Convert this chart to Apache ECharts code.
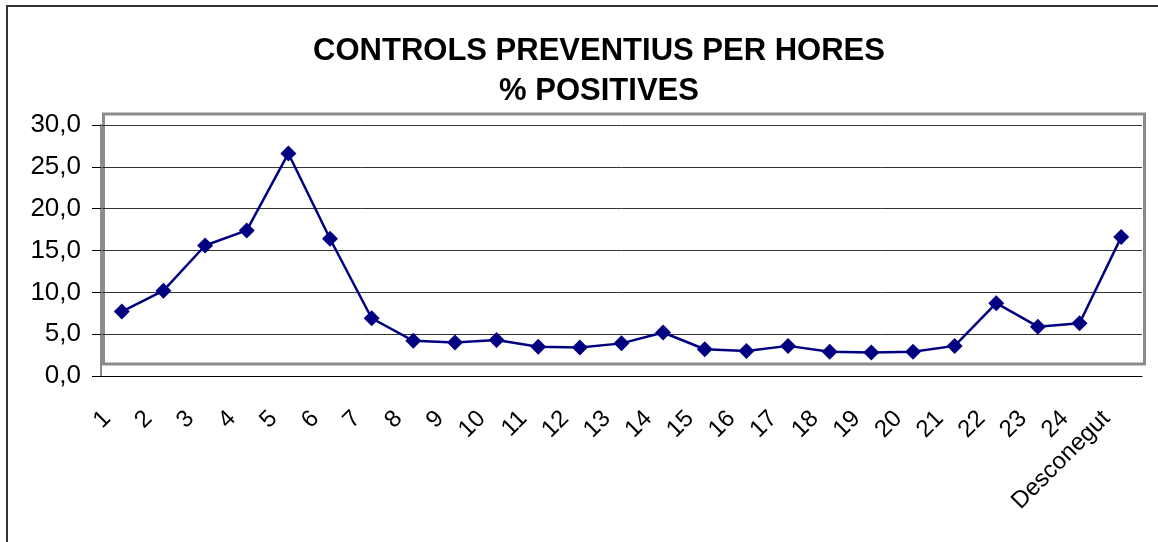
<!DOCTYPE html>
<html>
<head>
<meta charset="utf-8">
<script src="https://cdn.jsdelivr.net/npm/echarts@6/dist/echarts.min.js"></script>
<style>
    html, body { margin: 0; padding: 0; background: #fff; }
</style>
</head>
<body>
<div id="line" style="width: 1158px;height: 542px;"></div>
<script>
    // hores del dia + desconegut
    const hores = ['1', '2', '3', '4', '5', '6', '7', '8', '9', '10', '11', '12', '13', '14', '15', '16', '17', '18', '19', '20', '21', '22', '23', '24', 'Desconegut']
    // % positius per hora
    const positius = [7.7, 10.2, 15.6, 17.4, 26.6, 16.4, 6.9, 4.2, 4.0, 4.3, 3.5, 3.4, 3.9, 5.2, 3.2, 3.0, 3.6, 2.9, 2.8, 2.9, 3.6, 8.7, 5.9, 6.3, 16.6]
    const yMin = 0
    const yMax = 30
    const yInterval = 5

    let myChart = echarts.init(document.getElementById('line'))

    let option = {
        backgroundColor: '#fff',
        animation: false,
        title: {
            text: 'CONTROLS PREVENTIUS PER HORES\n% POSITIVES',
            left: 594,
            top: 26,
            textAlign: 'center',
            textStyle: {
                fontFamily: 'Liberation Sans',
                fontWeight: 'bold',
                fontSize: 31,
                lineHeight: 40,
                color: '#000'
            }
        },
        grid: {
            left: 101,
            right: 16,
            top: 125,
            bottom: 166
        },
        // marc exterior i requadre gris de l'area del grafic
        graphic: [
            { type: 'line', shape: { x1: 6, y1: 6, x2: 1158, y2: 6 }, style: { stroke: '#333', lineWidth: 2 } },
            { type: 'line', shape: { x1: 7, y1: 6, x2: 7, y2: 542 }, style: { stroke: '#333', lineWidth: 2 } },
            { type: 'rect', z: -1, shape: { x: 103.5, y: 114, width: 1041, height: 250 }, style: { fill: 'none', stroke: '#8c8c8c', lineWidth: 3 } }
        ],
        xAxis: {
            type: 'category',
            data: hores,
            boundaryGap: true,
            axisLine: { lineStyle: { color: '#000', width: 1 } },
            axisTick: { length: 7, lineStyle: { color: '#000' } },
            axisLabel: {
                rotate: 45,
                interval: 0,
                margin: 24,
                padding: [0, 21, 0, 0],
                fontFamily: 'Liberation Sans',
                fontSize: 24,
                color: '#000'
            }
        },
        yAxis: {
            type: 'value',
            min: yMin,
            max: yMax,
            interval: yInterval,
            axisLine: { show: true, lineStyle: { color: '#8c8c8c', width: 2 } },
            axisTick: { show: true, length: 9, lineStyle: { color: '#000' } },
            splitLine: { lineStyle: { color: '#333', width: 1 } },
            axisLabel: {
                margin: 20,
                fontFamily: 'Liberation Sans',
                fontSize: 26,
                color: '#000',
                formatter: function (v) { return v.toFixed(1).replace('.', ',') }
            }
        },
        series: [
            {
                name: '% positius',
                type: 'line',
                data: positius,
                symbol: 'diamond',
                symbolSize: 16,
                lineStyle: { color: '#000080', width: 2.5 },
                itemStyle: { color: '#000080' }
            }
        ]
    }
    myChart.setOption(option)
</script>
</body>
</html>
